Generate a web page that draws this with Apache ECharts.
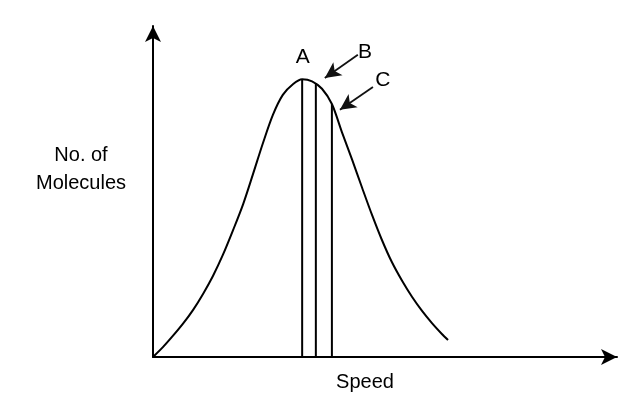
<!DOCTYPE html>
<html>
<head>
<meta charset="utf-8">
<script src="https://cdn.jsdelivr.net/npm/echarts@6/dist/echarts.min.js"></script>
<style>
  html, body { margin: 0; padding: 0; background: #fff; }
  #chart-container { width: 633px; height: 402px; }
</style>
</head>
<body>
<div id="chart-container"></div>
<script>
// Distribution curve (speed, number of molecules)
const curveSpeed = [0, 0.21, 0.42, 0.64, 0.85, 1.06, 1.27, 1.48, 1.69, 1.91, 2.12, 2.33, 2.54, 2.75, 2.97, 3.16,
  3.37, 3.58, 3.79, 4.00, 4.22, 4.43, 4.64, 4.85, 5.06, 5.28, 5.49, 5.70, 5.91, 6.12, 6.25];
const curveCount = [0, 0.29, 0.62, 0.99, 1.39, 1.86, 2.39, 3.01, 3.72, 4.51, 5.40, 6.31, 7.14, 7.73, 8.05, 8.19,
  8.13, 7.91, 7.46, 6.64, 5.81, 4.99, 4.19, 3.45, 2.80, 2.24, 1.77, 1.36, 1.00, 0.68, 0.50];

// Marked speeds A, B, C and the height of each drop line
const markNames = ["A", "B", "C"];
const markSpeed = [3.16, 3.45, 3.79];
const markTop = [8.19, 8.07, 7.46];

// Letter positions and pointer arrows (from -> to)
const labelPos = [[3.17, 8.85], [4.49, 9.00], [4.87, 8.17]];
const arrowFrom = [[4.34, 8.91], [4.66, 7.96]];
const arrowTo = [[3.64, 8.23], [3.96, 7.29]];

const font = "'Liberation Sans', Arial, sans-serif";

let dom = document.getElementById("chart-container");
let myChart = echarts.init(dom, null, { renderer: "canvas" });

const axisCommon = {
  type: "value",
  min: 0,
  splitLine: { show: false },
  axisTick: { show: false },
  axisLabel: { show: false },
  axisLine: {
    show: true,
    symbol: ["none", "arrow"],
    symbolSize: [12, 16],
    lineStyle: { color: "#000", width: 2 },
  },
};

let series = [
  {
    type: "line",
    data: curveSpeed.map((s, i) => [s, curveCount[i]]),
    smooth: 0.3,
    showSymbol: false,
    lineStyle: { color: "#000", width: 2 },
    silent: true,
    markLine: {
      silent: true,
      symbol: ["none", "arrow"],
      symbolSize: [12, 16],
      label: { show: false },
      lineStyle: { color: "#111", width: 1.8, type: "solid" },
      data: arrowFrom.map((p, i) => [{ coord: p }, { coord: arrowTo[i] }]),
    },
  },
];

markSpeed.forEach((s, i) => {
  series.push({
    type: "line",
    data: [[s, 0], [s, markTop[i]]],
    showSymbol: false,
    lineStyle: { color: "#000", width: 2 },
    silent: true,
  });
});

series.push({
  type: "scatter",
  symbolSize: 0,
  silent: true,
  itemStyle: { opacity: 1 },
  data: markNames.map((n, i) => ({ name: n, value: labelPos[i] })),
  label: {
    show: true,
    position: "inside",
    formatter: (p) => p.name,
    color: "#000",
    opacity: 1,
    textBorderWidth: 0,
    fontSize: 21,
    fontFamily: font,
  },
});

let option = {
  animation: false,
  backgroundColor: "#fff",
  grid: { left: 153, right: 16, top: 26, bottom: 45, outerBoundsMode: "none" },
  xAxis: Object.assign({}, axisCommon, { max: 9.83 }),
  yAxis: Object.assign({}, axisCommon, { max: 9.76 }),
  graphic: [
    {
      type: "text",
      x: 81,
      y: 155,
      style: {
        text: "No. of",
        align: "center",
        verticalAlign: "middle",
        fill: "#000",
        font: "20px " + font,
      },
    },
    {
      type: "text",
      x: 81,
      y: 183,
      style: {
        text: "Molecules",
        align: "center",
        verticalAlign: "middle",
        fill: "#000",
        font: "20px " + font,
      },
    },
    {
      type: "text",
      x: 365,
      y: 382,
      style: {
        text: "Speed",
        align: "center",
        verticalAlign: "middle",
        fill: "#000",
        font: "20px " + font,
      },
    },
  ],
  series: series,
};

myChart.setOption(option);
window.addEventListener("resize", myChart.resize);
</script>
</body>
</html>
